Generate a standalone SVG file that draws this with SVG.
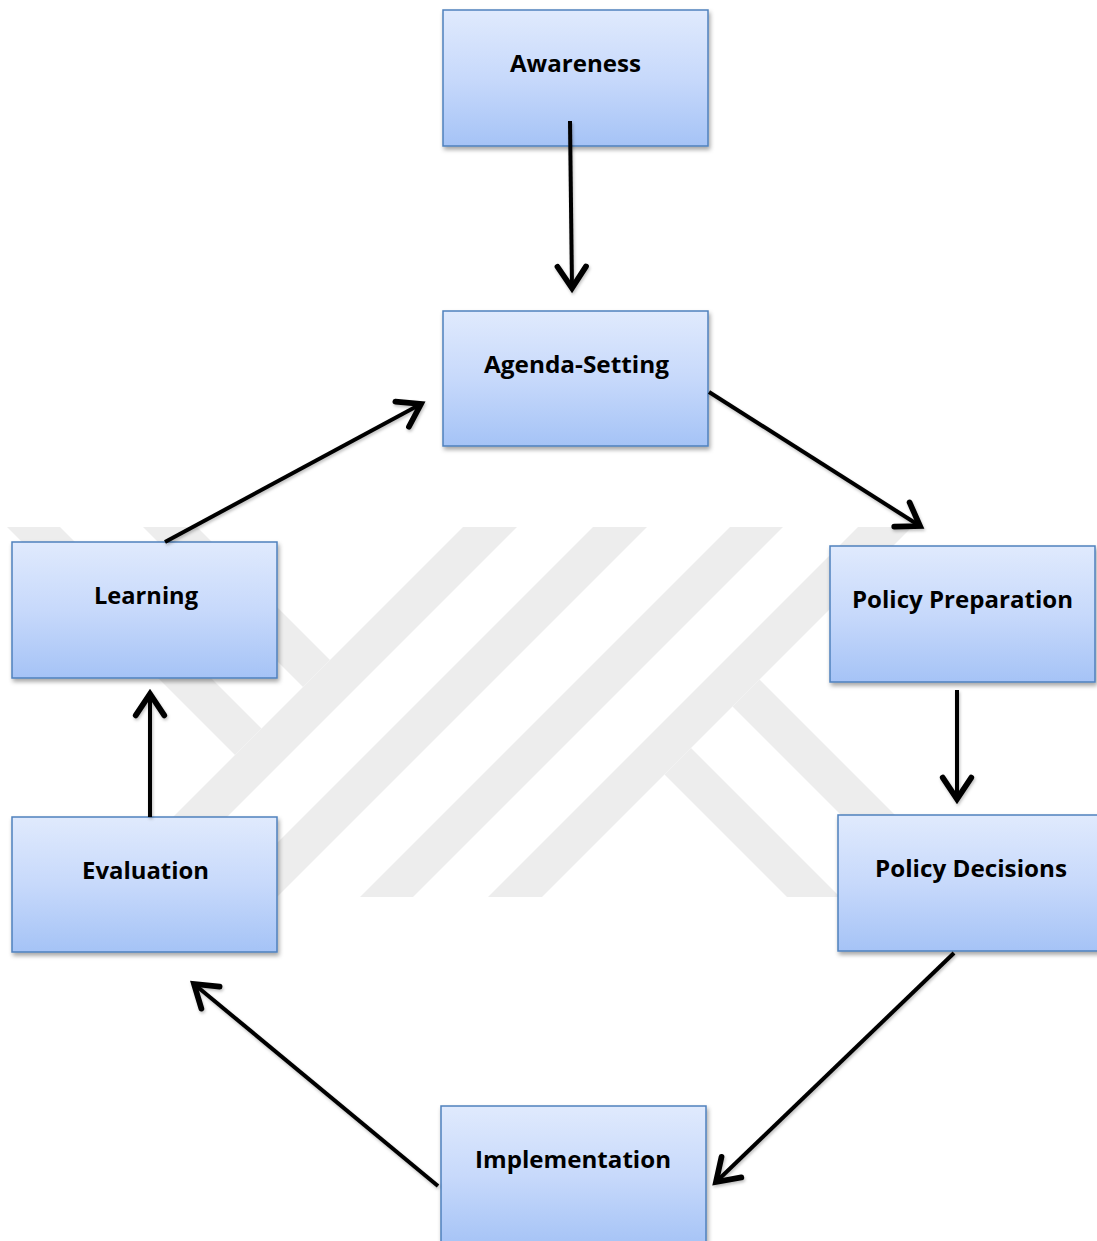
<svg xmlns="http://www.w3.org/2000/svg" width="1097" height="1241" viewBox="0 0 1097 1241">
  <style>
    .box { fill: url(#boxFill); stroke: #4f81bd; stroke-width: 1.5; filter: url(#boxShadow); }
    .label { font-family: "Open Sans", "Liberation Sans", sans-serif; font-weight: bold; font-size: 23px; fill: #000; text-anchor: middle; }
    .link { fill: none; stroke: #000; stroke-width: 4; marker-end: url(#arrowOpen); }
    .mark { fill: #ededed; }
  </style>
  <defs>
    <linearGradient id="boxFill" x1="0" y1="0" x2="0" y2="1">
      <stop offset="0" stop-color="#e0eafd"/>
      <stop offset="0.5" stop-color="#c7d9fb"/>
      <stop offset="1" stop-color="#a5c3f6"/>
    </linearGradient>
    <filter id="boxShadow" x="-10%" y="-10%" width="125%" height="130%">
      <feDropShadow dx="1.5" dy="3" stdDeviation="2" flood-color="#000" flood-opacity="0.35"/>
    </filter>
    <filter id="lineShadow" filterUnits="userSpaceOnUse" x="0" y="0" width="1097" height="1241">
      <feDropShadow dx="1" dy="2" stdDeviation="1.5" flood-color="#000" flood-opacity="0.25"/>
    </filter>
    <marker id="arrowOpen" markerUnits="userSpaceOnUse" orient="auto" markerWidth="40" markerHeight="40" refX="0" refY="0" viewBox="-22 -14 26 28" overflow="visible">
      <path d="M-15,-10 L0,0 L-15,10" fill="none" stroke="#000" stroke-width="4" stroke-linecap="round" stroke-linejoin="miter"/>
    </marker>
  </defs>

  <rect width="1097" height="1241" fill="#fff"/>

  <!-- background emblem: diagonal bands -->
  <g id="emblem">
    <polygon class="mark" points="7,527 60,527 261.5,728.5 235,755"/>
    <polygon class="mark" points="143,527 197,527 330,660 303,687"/>
    <polygon class="mark" points="463,527 517,527 147,897 93,897"/>
    <polygon class="mark" points="593,527 647,527 277,897 223,897"/>
    <polygon class="mark" points="730,527 783,527 413,897 360,897"/>
    <polygon class="mark" points="858,527 912,527 542,897 488,897"/>
    <polygon class="mark" points="691,748 840,897 787,897 664.5,774.5"/>
    <polygon class="mark" points="759.5,679.5 977,897 923,897 732.5,706.5"/>
  </g>

  <g id="awareness">
    <rect class="box" x="443" y="10" width="265" height="136"/>
    <text class="label" x="575.5" y="72" textLength="131" lengthAdjust="spacingAndGlyphs">Awareness</text>
  </g>
  <g id="agenda-setting">
    <rect class="box" x="443" y="311" width="265" height="135"/>
    <text class="label" x="576.5" y="373" textLength="185" lengthAdjust="spacingAndGlyphs">Agenda-Setting</text>
  </g>
  <g id="policy-preparation">
    <rect class="box" x="830" y="546" width="265" height="136"/>
    <text class="label" x="962.5" y="608" textLength="221" lengthAdjust="spacingAndGlyphs">Policy Preparation</text>
  </g>
  <g id="policy-decisions">
    <rect class="box" x="838" y="815" width="265" height="136"/>
    <text class="label" x="971" y="877" textLength="192" lengthAdjust="spacingAndGlyphs">Policy Decisions</text>
  </g>
  <g id="implementation">
    <rect class="box" x="441" y="1106" width="265" height="140"/>
    <text class="label" x="573" y="1168" textLength="196" lengthAdjust="spacingAndGlyphs">Implementation</text>
  </g>
  <g id="evaluation">
    <rect class="box" x="12" y="817" width="265" height="135"/>
    <text class="label" x="145.5" y="879" textLength="127" lengthAdjust="spacingAndGlyphs">Evaluation</text>
  </g>
  <g id="learning">
    <rect class="box" x="12" y="542" width="265" height="136"/>
    <text class="label" x="146" y="604" textLength="104" lengthAdjust="spacingAndGlyphs">Learning</text>
  </g>

  <g id="connectors" filter="url(#lineShadow)">
    <line class="link" x1="570" y1="121" x2="572" y2="288"/>
    <line class="link" x1="709" y1="392" x2="920" y2="526"/>
    <line class="link" x1="957" y1="690" x2="957" y2="799"/>
    <line class="link" x1="954" y1="953" x2="716" y2="1182"/>
    <line class="link" x1="438" y1="1186" x2="194" y2="984"/>
    <line class="link" x1="150" y1="817" x2="150" y2="694"/>
    <line class="link" x1="165" y1="542" x2="421" y2="404"/>
  </g>
</svg>
